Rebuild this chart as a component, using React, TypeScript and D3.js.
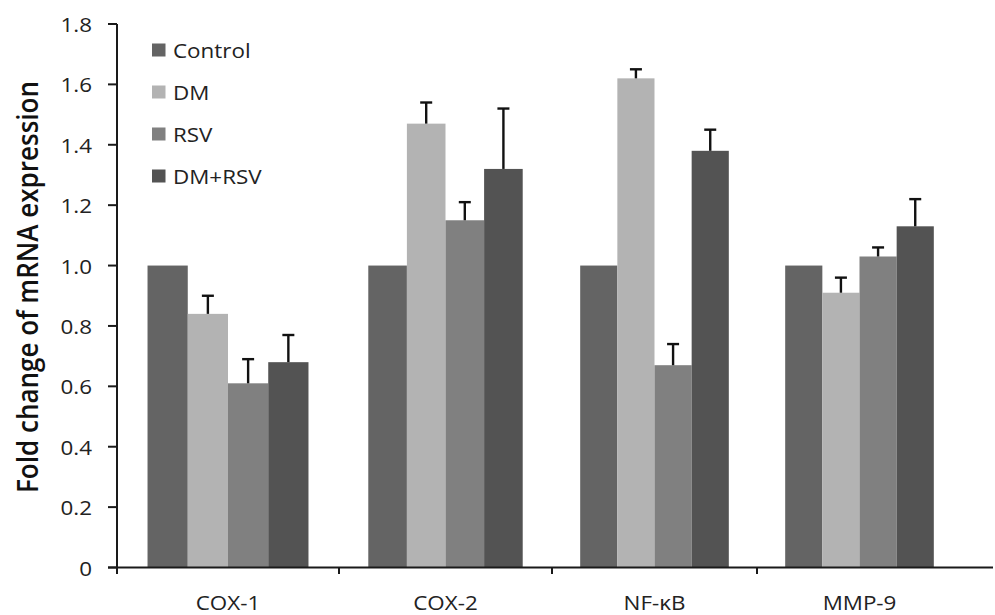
import React from "react";
import * as d3 from "d3";

const categories = ["COX-1", "COX-2", "NF-κB", "MMP-9"];
const seriesNames = ["Control", "DM", "RSV", "DM+RSV"];
const controlValues = [1.0, 1.0, 1.0, 1.0];
const controlErrors = [0, 0, 0, 0];
const dmValues = [0.84, 1.47, 1.62, 0.91];
const dmErrors = [0.06, 0.07, 0.03, 0.05];
const rsvValues = [0.61, 1.15, 0.67, 1.03];
const rsvErrors = [0.08, 0.06, 0.07, 0.03];
const dmRsvValues = [0.68, 1.32, 1.38, 1.13];
const dmRsvErrors = [0.09, 0.2, 0.07, 0.09];
const yTicks = [0, 0.2, 0.4, 0.6, 0.8, 1.0, 1.2, 1.4, 1.6, 1.8];
const yTitle = "Fold change of mRNA expression";

const seriesValues = [controlValues, dmValues, rsvValues, dmRsvValues];
const seriesErrors = [controlErrors, dmErrors, rsvErrors, dmRsvErrors];
const colors = ["#646464", "#b3b3b3", "#808080", "#535353"];

const W = 995;
const H = 615;
const FONT = "'Open Sans', 'Liberation Sans', sans-serif";
const SX = 1.12;

export default function App() {
  const y = d3.scaleLinear().domain([0, 1.8]).range([567.5, 24]);
  // category boundaries (image is slightly unevenly stretched)
  const xb = d3.scaleLinear().domain([0, 1, 2, 3, 4]).range([117, 339, 552, 757, 962]);
  const groupFrac = 0.725;
  const axisColor = "#1a1a1a";

  const bars: any[] = [];
  categories.forEach((c, ci) => {
    const x0 = xb(ci);
    const x1 = xb(ci + 1);
    const bw = x1 - x0;
    const gw = bw * groupFrac;
    const inner = d3
      .scaleBand<number>()
      .domain(d3.range(seriesNames.length))
      .range([x0 + (bw - gw) / 2, x0 + (bw + gw) / 2])
      .padding(0);
    seriesNames.forEach((s, si) => {
      const v = seriesValues[si][ci];
      const e = seriesErrors[si][ci];
      const bx = inner(si)!;
      const w = inner.bandwidth();
      bars.push(
        <rect key={`b-${ci}-${si}`} x={bx} y={y(v)} width={w} height={y(0) - y(v)} fill={colors[si]} />
      );
      if (e > 0) {
        const cx = bx + w / 2;
        bars.push(
          <g key={`e-${ci}-${si}`} stroke="#111" strokeWidth={2.4}>
            <line x1={cx} x2={cx} y1={y(v)} y2={y(v + e)} />
            <line x1={cx - 6} x2={cx + 6} y1={y(v + e)} y2={y(v + e)} />
          </g>
        );
      }
    });
  });

  return (
    <svg width={W} height={H} style={{ position: "absolute", left: 0, top: 0, background: "#fff" }}>
      <rect x={0} y={0} width={W} height={H} fill="#fff" />
      {bars}
      {/* y axis */}
      <line x1={117} x2={117} y1={y(1.8)} y2={574} stroke={axisColor} strokeWidth={2} />
      {yTicks.map((t) => (
        <g key={`yt-${t}`}>
          <line x1={108} x2={117} y1={y(t)} y2={y(t)} stroke={axisColor} strokeWidth={2} />
          <text
            transform={`translate(92,${y(t) + 8}) scale(${SX},1)`}
            textAnchor="end"
            fontFamily={FONT}
            fontSize={20}
            fill="#222"
          >
            {t === 0 ? "0" : d3.format(".1f")(t)}
          </text>
        </g>
      ))}
      {/* x axis */}
      <line x1={108} x2={993} y1={y(0)} y2={y(0)} stroke={axisColor} strokeWidth={2} />
      {[1, 2, 3].map((i) => (
        <line key={`xt-${i}`} x1={xb(i)} x2={xb(i)} y1={y(0)} y2={574} stroke={axisColor} strokeWidth={2} />
      ))}
      {categories.map((c, ci) => (
        <text
          key={`xl-${c}`}
          transform={`translate(${(xb(ci) + xb(ci + 1)) / 2},610) scale(${SX},1)`}
          textAnchor="middle"
          fontFamily={FONT}
          fontSize={20}
          fill="#222"
        >
          {c}
        </text>
      ))}
      {/* y title */}
      <text
        transform={`translate(38,287) rotate(-90)`}
        textAnchor="middle"
        fontFamily={FONT}
        fontSize={28}
        fontWeight={600}
        textLength={412}
        lengthAdjust="spacingAndGlyphs"
        fill="#111"
      >
        {yTitle}
      </text>
      {/* legend */}
      {seriesNames.map((s, si) => {
        const cy = 50 + si * 42;
        return (
          <g key={`lg-${s}`}>
            <rect x={152} y={cy - 6.5} width={13.5} height={13} fill={colors[si]} />
            <text
              transform={`translate(173,${cy + 7.5}) scale(${SX},1)`}
              fontFamily={FONT}
              fontSize={20}
              fill="#222"
            >
              {s}
            </text>
          </g>
        );
      })}
    </svg>
  );
}
